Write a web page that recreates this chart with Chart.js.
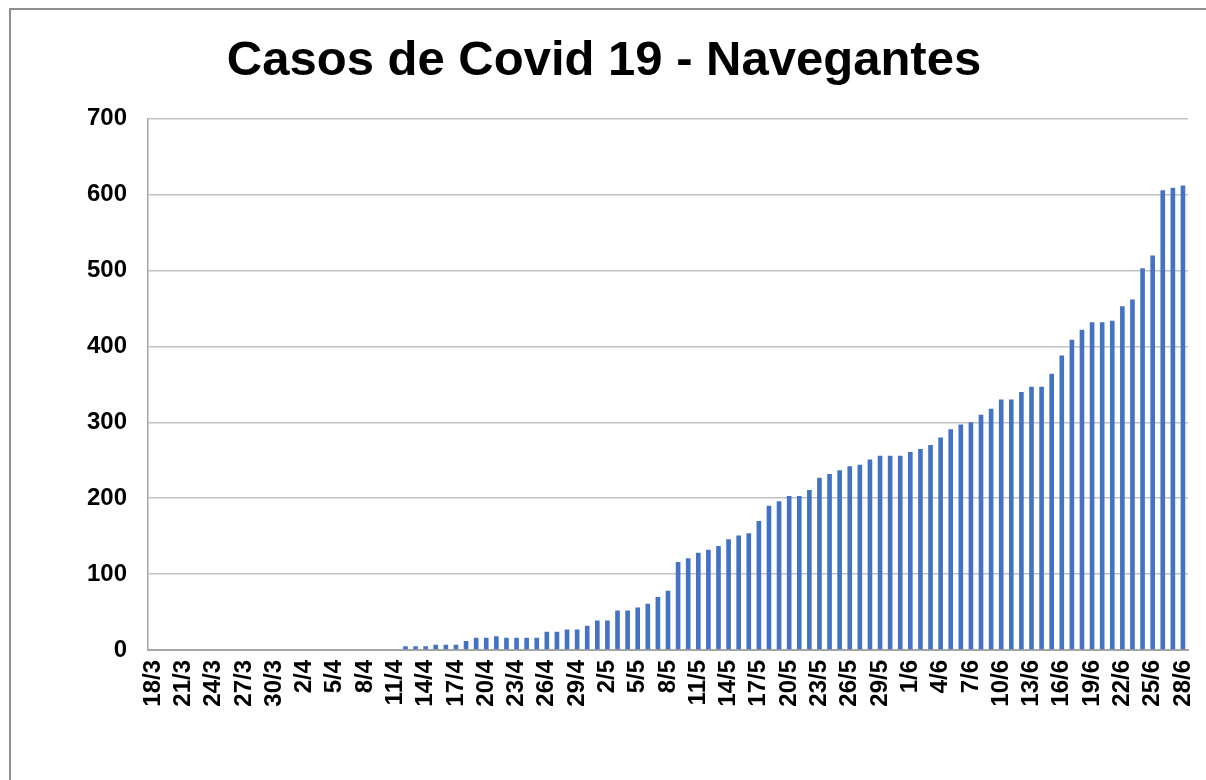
<!DOCTYPE html>
<html>
<head>
<meta charset="utf-8">
<script src="https://cdn.jsdelivr.net/npm/chart.js@4.4.1/dist/chart.umd.min.js"></script>
<style>
    html, body { margin: 0; padding: 0; background: #fff; }
    #wrap { position: relative; width: 1206px; height: 780px; overflow: hidden; }
    #frame { position: absolute; left: 9px; top: 8px; width: 1300px; height: 900px; border-left: 2px solid #8f8f8f; border-top: 2px solid #8f8f8f; }
    #chart { position: absolute; left: 0; top: 0; }
</style>
</head>
<body>
<div id="wrap">
    <div id="frame"></div>
    <canvas id="chart" width="1206" height="780"></canvas>
</div>
<script>
const chartTitle = 'Casos de Covid 19 - Navegantes';

const dias = [
    '18/3','19/3','20/3','21/3','22/3','23/3','24/3','25/3','26/3','27/3','28/3','29/3','30/3','31/3',
    '1/4','2/4','3/4','4/4','5/4','6/4','7/4','8/4','9/4','10/4','11/4','12/4','13/4','14/4','15/4',
    '16/4','17/4','18/4','19/4','20/4','21/4','22/4','23/4','24/4','25/4','26/4','27/4','28/4','29/4','30/4',
    '1/5','2/5','3/5','4/5','5/5','6/5','7/5','8/5','9/5','10/5','11/5','12/5','13/5','14/5','15/5','16/5',
    '17/5','18/5','19/5','20/5','21/5','22/5','23/5','24/5','25/5','26/5','27/5','28/5','29/5','30/5','31/5',
    '1/6','2/6','3/6','4/6','5/6','6/6','7/6','8/6','9/6','10/6','11/6','12/6','13/6','14/6','15/6',
    '16/6','17/6','18/6','19/6','20/6','21/6','22/6','23/6','24/6','25/6','26/6','27/6','28/6'
];

const casos = [
    0,0,0,0,0,0,0,0,0,0,0,0,0,0,
    0,0,0,0,0,0,0,0,0,0,0,5,5,5,7,7,7,12,16,16,18,16,16,16,16,24,24,27,27,32,
    39,39,52,52,56,61,70,78,116,121,128,132,137,146,151,154,170,190,196,203,203,211,227,232,237,242,244,251,256,256,256,
    261,265,270,280,291,297,300,310,318,330,330,340,347,347,364,388,409,422,432,432,434,453,462,503,520,606,609,612
];

const yMax = 700;
const yStep = 100;
const labelEvery = 3;

const fontFamily = '"Liberation Sans", Arial, sans-serif';

new Chart(document.getElementById('chart'), {
    type: 'bar',
    data: {
        labels: dias,
        datasets: [{ data: casos, backgroundColor: '#4472c4', barPercentage: 0.46, categoryPercentage: 1 }]
    },
    options: {
        responsive: false,
        animation: false,
        layout: { padding: { left: 20, right: 18, top: 0, bottom: 0 } },
        plugins: {
            legend: { display: false },
            tooltip: { enabled: false },
            title: {
                display: true,
                text: chartTitle,
                color: '#000',
                font: { family: fontFamily, size: 49, weight: 'bold' },
                padding: { top: 32, bottom: 28 }
            }
        },
        scales: {
            x: {
                grid: { display: false, drawTicks: false },
                border: { color: '#a6a6a6', width: 2 },
                ticks: {
                    autoSkip: false,
                    minRotation: 90,
                    maxRotation: 90,
                    padding: 10,
                    color: '#000',
                    font: { family: fontFamily, size: 24, weight: 'bold' },
                    callback: (v, i) => (i % labelEvery === 0 ? dias[i] : '')
                },
                afterFit: s => { s.height = 130; s.paddingLeft = 0; s.paddingRight = 0; }
            },
            y: {
                min: 0,
                max: yMax,
                grid: { color: '#c3c3c3', lineWidth: 1.5, drawTicks: false },
                border: { color: '#a6a6a6', width: 1.5 },
                ticks: {
                    stepSize: yStep,
                    padding: 21,
                    color: '#000',
                    font: { family: fontFamily, size: 24, weight: 'bold' }
                },
                afterFit: s => { s.width = 128; }
            }
        }
    }
});
</script>
</body>
</html>
